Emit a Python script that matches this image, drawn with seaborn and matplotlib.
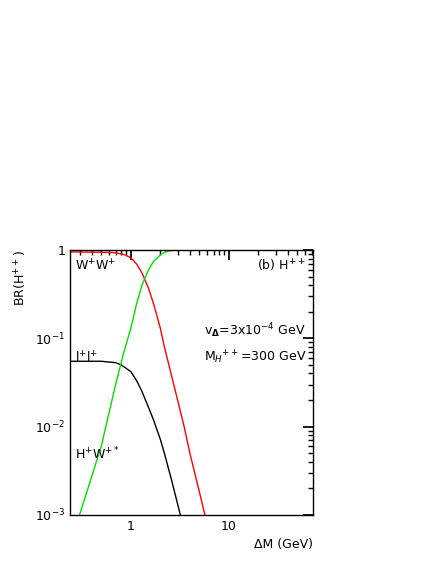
import matplotlib
matplotlib.use("Agg")
import matplotlib.pyplot as plt
import seaborn as sns
import numpy as np

sns.set_theme(style="white")
plt.rcParams['font.family'] = ['DejaVu Sans']
plt.rcParams['text.color'] = 'black'
plt.rcParams['axes.labelcolor'] = 'black'
plt.rcParams['xtick.color'] = 'black'
plt.rcParams['ytick.color'] = 'black'

dm_ww = [0.24, 0.5, 0.7, 0.85, 1.0, 1.15, 1.3, 1.5, 1.7, 2.0, 2.2, 2.6, 3.0, 3.5, 4.0, 4.8, 5.7]
br_ww = [0.95, 0.945, 0.93, 0.89, 0.82, 0.69, 0.55, 0.38, 0.25, 0.13, 0.08, 0.038, 0.02, 0.01, 0.005, 0.0022, 0.001]
dm_ll = [0.24, 0.5, 0.7, 0.8, 1.0, 1.15, 1.3, 1.5, 1.7, 2.0, 2.2, 2.6, 3.2]
br_ll = [0.055, 0.055, 0.053, 0.050, 0.042, 0.033, 0.025, 0.017, 0.012, 0.0072, 0.005, 0.0025, 0.001]
dm_hw = [0.3, 0.5, 0.7, 0.85, 1.0, 1.15, 1.3, 1.5, 1.7, 2.0, 2.2, 2.5, 2.8, 3.2, 72]
br_hw = [0.001, 0.006, 0.03, 0.07, 0.13, 0.25, 0.40, 0.58, 0.74, 0.88, 0.94, 0.98, 0.995, 1.0, 1.0]

fig = plt.figure(figsize=(4.36, 5.64), dpi=100)
ax = fig.add_axes([70/436, 1-515/564, 243/436, 265/564])
sns.lineplot(x=dm_ww, y=br_ww, color="red", lw=1, ax=ax)
sns.lineplot(x=dm_ll, y=br_ll, color="black", lw=1, ax=ax)
sns.lineplot(x=dm_hw, y=br_hw, color="#00e000", lw=1, ax=ax)
ax.set_xscale("log"); ax.set_yscale("log")
ax.set_xlim(0.24, 72); ax.set_ylim(1e-3, 1)
for s in ax.spines.values():
    s.set_color("black"); s.set_linewidth(1)
ax.tick_params(which="both", direction="in", top=True, right=True, labelsize=9)
ax.tick_params(which="major", length=7)
ax.tick_params(which="minor", length=3.5)
ax.set_xticks([1, 10]); ax.set_xticklabels(["1", "10"])
ax.set_yticks([1e-3, 1e-2, 1e-1, 1])
ax.set_yticklabels([r"10$^{-3}$", r"10$^{-2}$", r"10$^{-1}$", "1"])
ax.set_xlabel("ΔM (GeV)", fontsize=9, loc="right")
ax.set_ylabel(r"BR(H$^{++}$)", fontsize=9, loc="top")
ax.text(0.02, 0.97, r"W$^{+}$W$^{+}$", transform=ax.transAxes, fontsize=9, va="top")
ax.text(0.02, 0.62, r"l$^{+}$l$^{+}$", transform=ax.transAxes, fontsize=9, va="top")
ax.text(0.02, 0.26, r"H$^{+}$W$^{+*}$", transform=ax.transAxes, fontsize=9, va="top")
ax.text(0.97, 0.97, r"(b) H$^{++}$", transform=ax.transAxes, fontsize=9, va="top", ha="right")
ax.text(0.55, 0.68, r"v$_{\mathbf{\Delta}}$=3x10$^{-4}$ GeV", transform=ax.transAxes, fontsize=9)
ax.text(0.55, 0.58, r"M$_{H}$$^{++}$=300 GeV", transform=ax.transAxes, fontsize=9)
fig.savefig("out.png", dpi=100)
